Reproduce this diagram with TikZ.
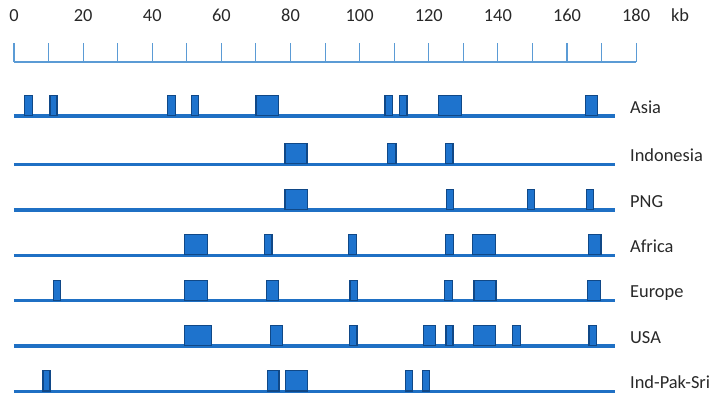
\documentclass[tikz,border=0pt]{standalone}
\usepackage{fontspec}
\setmainfont{Carlito}
\usepackage{xcolor}

\definecolor{trackblue}{RGB}{31,112,196}
\definecolor{boxblue}{RGB}{30,115,205}
\definecolor{boxedge}{RGB}{16,72,135}
\definecolor{tickblue}{RGB}{91,155,213}
\definecolor{labelgray}{RGB}{40,40,40}

\begin{document}
\begin{tikzpicture}[x=2.592pt, y=-0.75pt,
    track/.style={line width=2.4pt, trackblue},
    gene/.style={fill=boxblue, draw=boxedge, line width=1pt},
    scaletick/.style={tickblue, line width=0.8pt},
    popname/.style={anchor=base west, text=labelgray, inner sep=0pt, font=\fontsize{13.8}{16}\selectfont},
    scalenum/.style={anchor=base, text=labelgray, inner sep=0pt, font=\fontsize{13.8}{16}\selectfont}]
    \useasboundingbox (-4.05,0) rectangle (203.4,403);

    % kb scale
    \draw[scaletick] (0,62) -- (180,62);
    \foreach \k in {0,10,...,180}
        \draw[scaletick] (\k,43) -- (\k,62);
    \foreach \k in {0,20,...,180}
        \node[scalenum] (num\k) at (\k,21.7) {\k};
    \node[scalenum] (kb) at (192.7,21.7) {kb};

    % one track per population
    \foreach \id/\pop/\yy/\genes in {
        asia/Asia/116/{3.0/5.3,10.4/12.4,44.5/46.8,51.3/53.4,70.0/76.5,107.3/109.6,111.6/113.7,122.8/129.4,165.3/168.9},
        indo/Indonesia/164.3/{78.4/84.8,108.1/110.5,124.9/127.0},
        png/PNG/210/{78.4/85.0,125.1/127.2,148.5/150.5,165.6/167.7},
        afr/Africa/255.3/{49.4/56.0,72.4/74.6,96.8/99.0,124.9/127.2,132.6/139.4,166.2/169.8},
        eur/Europe/300.7/{11.4/13.5,49.4/56.0,73.1/76.5,97.2/99.3,124.5/126.8,133.1/139.5,165.9/169.6},
        usa/USA/346/{49.4/57.2,74.3/77.7,97.0/99.2,118.5/121.9,125.0/127.0,132.9/139.4,144.3/146.5,166.4/168.5},
        ind/Ind-Pak-Sri/391.3/{8.4/10.4,73.4/76.7,78.6/84.9,113.2/115.3,118.1/120.3}} {
        \draw[track] (0,\yy) -- (174,\yy);
        \foreach \a/\b in \genes
            \draw[gene] (\a,\yy-20.5) rectangle (\b,\yy-0.5);
        \node[popname] (\id) at (178.2,\yy-3) {\pop};
    }
\end{tikzpicture}
\end{document}
